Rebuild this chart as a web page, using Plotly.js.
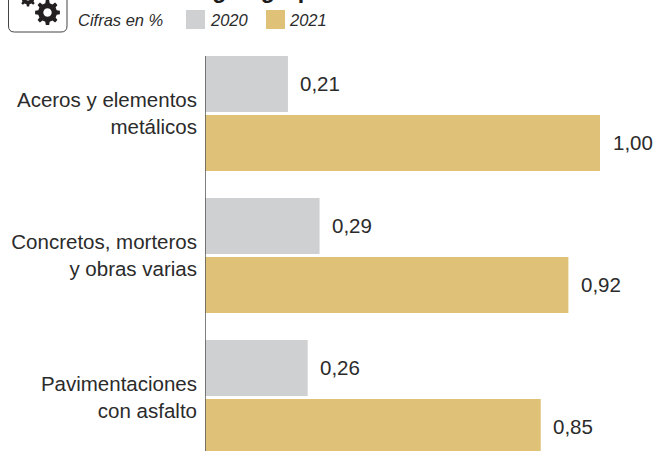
<!DOCTYPE html>
<html><head><meta charset="utf-8">
<script src="https://cdn.plot.ly/plotly-3.0.1.min.js"></script>
<style>html,body{margin:0;padding:0;background:#fff;overflow:hidden}#c{width:655px;height:451px}</style>
</head><body><div id="c"></div>
<script>
var categories = ["Aceros y elementos<br>metálicos", "Concretos, morteros<br>y obras varias", "Pavimentaciones<br>con asfalto"];
var values2020 = [0.21, 0.29, 0.26];
var values2021 = [1.00, 0.92, 0.85];
var labels2020 = ["0,21", "0,29", "0,26"];
var labels2021 = ["1,00", "0,92", "0,85"];
var font = "Liberation Sans, Arial, sans-serif";
var ink = "#2b2b2b", grey = "#cfd0d2", gold = "#dfc278";
var W = 655, H = 451, L = 205;
function px(x){ return (x - L) / (W - L); }
function py(y){ return 1 - y / H; }
function bar(name, vals, color){
  return {type:"bar", orientation:"h", name:name, x:vals, y:categories,
    marker:{color:color,line:{width:0}}, showlegend:false, hoverinfo:"x+y"};
}
function valueNote(v, cat, label, shift){
  return {x:v, y:cat, xref:"x", yref:"y", text:label, showarrow:false, xanchor:"left", yanchor:"middle",
    xshift:10.5, yshift:shift, font:{family:font,size:20.5,color:ink}};
}
function textNote(t, x, y, size){
  return {text:t, xref:"paper", yref:"paper", x:px(x), y:py(y), xanchor:"left", yanchor:"middle",
    showarrow:false, xshift:0, font:{family:font,size:size,color:ink}};
}
function gearPath(cx, cy, R, r, hole, n){
  var d = "", step = 2*Math.PI/n, i, a, pts = [];
  for(i = 0; i < n; i++){
    a = i*step;
    pts.push([a-step*0.30,r],[a-step*0.17,R],[a+step*0.17,R],[a+step*0.30,r]);
  }
  pts.forEach(function(p,k){
    d += (k?"L":"M") + px(cx+p[1]*Math.cos(p[0])) + "," + py(cy+p[1]*Math.sin(p[0]));
  });
  d += "Z";
  for(i = 0; i < 24; i++){
    a = i*2*Math.PI/24;
    d += (i?"L":"M") + px(cx+hole*Math.cos(a)) + "," + py(cy+hole*Math.sin(a));
  }
  return d + "Z";
}
function boxPath(x0, x1, y1, rad){
  return "M"+px(x0)+","+py(-10)+"L"+px(x0)+","+py(y1-rad)+
    "Q"+px(x0)+","+py(y1)+" "+px(x0+rad)+","+py(y1)+
    "L"+px(x1-rad)+","+py(y1)+
    "Q"+px(x1)+","+py(y1)+" "+px(x1)+","+py(y1-rad)+
    "L"+px(x1)+","+py(-10);
}
var notes = [
  textNote("<i>Cifras en %</i>", 76, 20, 16.5),
  textNote("<i>2020</i>", 208, 20, 16.5),
  textNote("<i>2021</i>", 287, 20, 16.5),
  {text:"<b>Variación según grupos de obra</b>", xref:"paper", yref:"paper", x:px(76), y:1, xanchor:"left", yanchor:"bottom",
   yshift:-5, showarrow:false, font:{family:font,size:23,color:"#1a1a1a"}}
];
categories.forEach(function(c,i){
  notes.push(valueNote(values2020[i], c, labels2020[i], 29.5));
  notes.push(valueNote(values2021[i], c, labels2021[i], -29.5));
});
var layout = {
  width:W, height:H, margin:{l:L,r:0,t:0,b:0,pad:0}, paper_bgcolor:"#fff", plot_bgcolor:"#fff",
  barmode:"group", bargap:0.169, bargroupgap:0.05,
  xaxis:{range:[0,450/395],visible:false,fixedrange:true},
  yaxis:{autorange:false,range:[2.377,-0.799],showgrid:false,zeroline:false,showline:false,ticks:"",
    tickfont:{family:font,size:20.5,color:ink},fixedrange:true,ticklabelstandoff:7},
  font:{family:font},
  shapes:[
    {type:"line",xref:"x",yref:"paper",x0:0,x1:0,y0:0,y1:py(56),line:{color:"#555",width:1.5}},
    {type:"rect",xref:"paper",yref:"paper",x0:px(186),x1:px(205),y0:py(29),y1:py(10),fillcolor:grey,line:{width:0}},
    {type:"rect",xref:"paper",yref:"paper",x0:px(266),x1:px(285),y0:py(29),y1:py(10),fillcolor:gold,line:{width:0}},
    {type:"path",xref:"paper",yref:"paper",path:boxPath(8.5,67,32,6),line:{color:"#444",width:1},fillcolor:"rgba(0,0,0,0)"},
    {type:"path",xref:"paper",yref:"paper",path:gearPath(47.5,12.5,12.5,9.5,4.2,8),fillcolor:"#231f20",fillrule:"evenodd",line:{width:0}},
    {type:"path",xref:"paper",yref:"paper",path:gearPath(28,-2,8.5,6.5,2.5,8),fillcolor:"#231f20",fillrule:"evenodd",line:{width:0}}
  ],
  annotations:notes
};
Plotly.newPlot("c",[bar("2020",values2020,grey),bar("2021",values2021,gold)],layout,{displayModeBar:false,staticPlot:true});
</script></body></html>
